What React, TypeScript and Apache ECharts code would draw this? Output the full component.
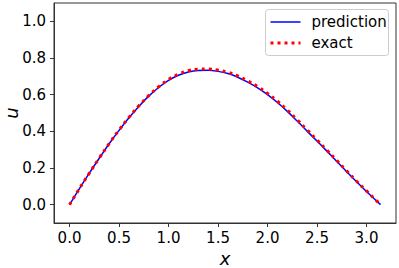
import React, { useEffect, useRef } from "react";
import * as echarts from "echarts";

const xs = [0, 0.1, 0.2, 0.3, 0.4, 0.5, 0.6, 0.7, 0.8, 0.9, 1.0, 1.1, 1.2, 1.3, 1.4, 1.5, 1.6, 1.7, 1.8, 1.9, 2.0, 2.1, 2.2, 2.3, 2.4, 2.5, 2.6, 2.7, 2.8, 2.9, 3.0, 3.1, 3.1416];
const prediction = [0, 0.088, 0.172, 0.253, 0.332, 0.405, 0.474, 0.536, 0.592, 0.639, 0.678, 0.706, 0.724, 0.732, 0.733, 0.727, 0.715, 0.695, 0.668, 0.637, 0.6, 0.557, 0.509, 0.456, 0.401, 0.347, 0.292, 0.236, 0.18, 0.125, 0.072, 0.021, 0];
const exact = [0, 0.088, 0.172, 0.254, 0.333, 0.407, 0.476, 0.539, 0.595, 0.643, 0.683, 0.712, 0.731, 0.739, 0.74, 0.734, 0.722, 0.702, 0.675, 0.644, 0.607, 0.564, 0.516, 0.463, 0.408, 0.353, 0.297, 0.241, 0.184, 0.128, 0.075, 0.022, 0];
const xTicks = [0, 0.5, 1.0, 1.5, 2.0, 2.5, 3.0];
const yTicks = [0, 0.2, 0.4, 0.6, 0.8, 1.0];
const seriesNames = ["prediction", "exact"];
const xName = "x";
const yName = "u";

const FONT = "DejaVu Sans";

export default function App() {
  const ref = useRef<HTMLDivElement>(null);
  useEffect(() => {
    const chart = echarts.init(ref.current!, null, { renderer: "svg" });
    const axisColor = "#333";
    chart.setOption({
      animation: false,
      grid: {
        left: 54,
        top: 3,
        width: 342,
        height: 220,
        containLabel: false,
        outerBoundsMode: "none",
        show: true,
        borderColor: axisColor,
        borderWidth: 1,
        backgroundColor: "#fff",
      },
      xAxis: {
        type: "value",
        min: -0.157,
        max: 3.298,
        name: xName,
        nameLocation: "middle",
        nameGap: 26,
        nameTextStyle: { fontFamily: FONT, fontSize: 18, fontStyle: "italic", color: "#000" },
        axisLine: { show: true, onZero: false, lineStyle: { color: axisColor } },
        axisTick: { show: true, length: 4, customValues: xTicks, lineStyle: { color: axisColor } },
        axisLabel: {
          customValues: xTicks,
          margin: 7,
          fontFamily: FONT,
          fontSize: 15,
          color: "#000",
          formatter: (v: number) => v.toFixed(1),
        },
        splitLine: { show: false },
      },
      yAxis: {
        type: "value",
        min: -0.1,
        max: 1.1,
        axisLine: { show: true, onZero: false, lineStyle: { color: axisColor } },
        axisTick: { show: true, length: 4, customValues: yTicks, lineStyle: { color: axisColor } },
        axisLabel: {
          customValues: yTicks,
          margin: 8,
          fontFamily: FONT,
          fontSize: 15,
          color: "#000",
          formatter: (v: number) => v.toFixed(1),
        },
        splitLine: { show: false },
      },
      series: [
        {
          name: seriesNames[0],
          type: "line",
          data: xs.map((x, i) => [x, prediction[i]]),
          showSymbol: false,
          symbol: "none",
          smooth: 0.4,
          lineStyle: { color: "#0000ff", width: 1.5 },
        },
        {
          name: seriesNames[1],
          type: "line",
          data: xs.map((x, i) => [x, exact[i]]),
          showSymbol: false,
          symbol: "none",
          smooth: 0.4,
          lineStyle: { color: "#ff0000", width: 3, type: [3, 4], cap: "butt" },
        },
      ],
      graphic: [
        {
          type: "text",
          x: 11,
          y: 113,
          rotation: Math.PI / 2,
          style: {
            text: yName,
            fontFamily: FONT,
            fontSize: 18,
            fontStyle: "italic",
            fill: "#000",
            align: "center",
            verticalAlign: "middle",
          },
        },
        {
          type: "group",
          left: 265,
          top: 9,
          children: [
            {
              type: "rect",
              shape: { x: 0, y: 0, width: 123, height: 46, r: 3 },
              style: { fill: "rgba(255,255,255,0.8)", stroke: "#ccc", lineWidth: 1 },
            },
            {
              type: "line",
              shape: { x1: 5, y1: 12.5, x2: 35, y2: 12.5 },
              style: { stroke: "#0000ff", lineWidth: 1.5 },
            },
            {
              type: "text",
              x: 46,
              y: 12.5,
              style: { text: seriesNames[0], fontFamily: FONT, fontSize: 15, fill: "#000", verticalAlign: "middle" },
            },
            {
              type: "line",
              shape: { x1: 5, y1: 33.5, x2: 35, y2: 33.5 },
              style: { stroke: "#ff0000", lineWidth: 3, lineDash: [3, 4] },
            },
            {
              type: "text",
              x: 46,
              y: 33.5,
              style: { text: seriesNames[1], fontFamily: FONT, fontSize: 15, fill: "#000", verticalAlign: "middle" },
            },
          ],
        },
      ],
    });
    return () => chart.dispose();
  }, []);
  return <div ref={ref} style={{ width: 399, height: 268, position: "absolute", left: 0, top: 0 }} />;
}
